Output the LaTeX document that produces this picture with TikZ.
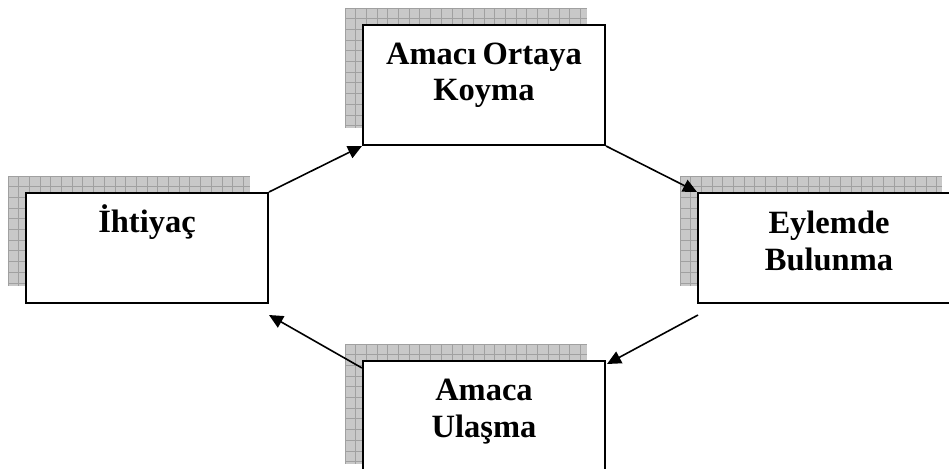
\documentclass[tikz,border=0pt]{standalone}
\usepackage{fontspec}
\setmainfont{Liberation Serif}
\usetikzlibrary{arrows.meta,calc}
\definecolor{shadefill}{HTML}{C8C8C8}
\definecolor{shadegrid}{HTML}{A0A0A0}
% hatched drop shadow: #1,#2 = top-left corner, #3 = width, #4 = height
\newcommand\gridshadow[4]{%
  \begin{scope}
    \clip (#1,#2) rectangle ++(#3,#4);
    \fill[shadefill] (#1,#2) rectangle ++(#3,#4);
    \foreach \k in {0,...,26}{
      \draw[shadegrid,line width=0.9pt] ($(#1,#2)+(\k*10.7,0)$) -- ++(0,#4);
      \draw[shadegrid,line width=0.9pt] ($(#1,#2)+(0,\k*10.7)$) -- ++(#3,0);
    }
  \end{scope}}
\begin{document}
\begin{tikzpicture}[x=1pt,y=-1pt,
  box/.style={draw=black,line width=2pt,fill=white,rectangle,inner sep=0pt,anchor=north west},
  lbl/.style={font=\fontsize{32.5}{36}\selectfont\bfseries,inner sep=0pt,anchor=base},
  flow/.style={line width=1.6pt,-{Triangle[length=14pt,width=13pt]}}]
\useasboundingbox (0,0) rectangle (949,468);

% shadows
\gridshadow{345}{8}{242}{120}
\gridshadow{8}{176}{242}{110}
\gridshadow{680}{176}{262}{110}
\gridshadow{345}{344}{242}{120}

% boxes
\node[box,minimum width=242pt,minimum height=120pt] (goal) at (362,24) {};
\node[box,minimum width=242pt,minimum height=110pt] (need) at (25,192) {};
\node[box,minimum width=262pt,minimum height=110pt] (act) at (697,192) {};
\node[box,minimum width=242pt,minimum height=120pt] (reach) at (362,360) {};

% labels
\node[lbl] (goalA) at ($(goal.north)+(0,41)$) {Amacı\hspace{-2pt} Ortaya};
\node[lbl] (goalB) at ($(goal.north)+(0,76)$) {Koyma};
\node[lbl] (needA) at ($(need.north)+(0,40)$) {İhtiyaç};
\node[lbl] (actA) at ($(act.north)+(0,41)$) {Eylemde};
\node[lbl] (actB) at ($(act.north)+(0,78)$) {Bulunma};
\node[lbl] (reachA) at ($(reach.north)+(0,40)$) {Amaca};
\node[lbl] (reachB) at ($(reach.north)+(0,77)$) {Ulaşma};

% cycle connectors
\draw[flow] (need.north east) -- (goal.south west);
\draw[flow] (goal.south east) -- (act.north west);
\draw[flow] ($(act.south west)+(1,11)$) -- ($(reach.north east)+(1,4)$);
\draw[flow] ($(reach.north west)+(0,8)$) -- ($(need.south east)+(0,11)$);
\end{tikzpicture}
\end{document}
